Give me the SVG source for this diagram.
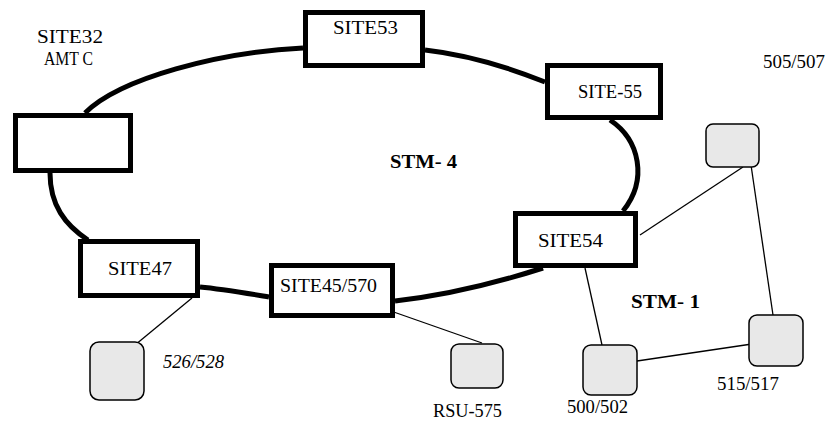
<svg xmlns="http://www.w3.org/2000/svg" width="828" height="423" viewBox="0 0 828 423">
<style>
.site{fill:#fff;stroke:#000;stroke-width:5}
.node{fill:#e8e8e8;stroke:#000;stroke-width:1.5}
.ring{fill:none;stroke:#000;stroke-width:5}
.link{fill:none;stroke:#000;stroke-width:1.3}
text{font-family:"Liberation Serif","Times New Roman",serif;font-size:18px;fill:#000}
.b{font-weight:bold}
.i{font-style:italic}
</style>
<rect width="828" height="423" fill="#fff"/>
<g id="connectors">
<path class="ring" d="M85,113 C120,78 220,52 303,48"/>
<path class="ring" d="M425,50 C470,55 510,68 545,82"/>
<path class="ring" d="M610,120 C640,140 648,180 623,211"/>
<path class="ring" d="M543,268 C490,285 440,296 395,301"/>
<path class="ring" d="M269,297 C245,293 222,289 200,287"/>
<path class="ring" d="M88,240 C65,225 50,205 50,173"/>
<path class="link" d="M192,298 L135,345"/>
<path class="link" d="M388,310 L482,343"/>
<path class="link" d="M585,268 L602,345"/>
<path class="link" d="M637,361 L752,344"/>
<path class="link" d="M751,165 L773,315"/>
<path class="link" d="M743,167 L640,235"/>
</g>
<g id="site53"><rect class="site" x="305.5" y="12.5" width="117" height="53"/><text x="333" y="34" textLength="65" lengthAdjust="spacingAndGlyphs">SITE53</text></g>
<g id="site55"><rect class="site" x="547.5" y="65.5" width="113" height="52"/><text x="578" y="98" textLength="64" lengthAdjust="spacingAndGlyphs">SITE-55</text></g>
<g id="site32"><rect class="site" x="15.5" y="115.5" width="115" height="55"/><text x="37" y="43" textLength="66" lengthAdjust="spacingAndGlyphs">SITE32</text><text x="44" y="65" textLength="49" lengthAdjust="spacingAndGlyphs">AMT C</text></g>
<g id="site47"><rect class="site" x="80.5" y="241.5" width="117" height="54"/><text x="108" y="275" textLength="64" lengthAdjust="spacingAndGlyphs">SITE47</text></g>
<g id="site45"><rect class="site" x="271.5" y="265.5" width="121" height="50"/><text x="280" y="292" textLength="97" lengthAdjust="spacingAndGlyphs">SITE45/570</text></g>
<g id="site54"><rect class="site" x="515.5" y="213.5" width="120" height="52"/><text x="538" y="247" textLength="65" lengthAdjust="spacingAndGlyphs">SITE54</text></g>
<g id="stm4"><text class="b" x="390" y="168" textLength="67" lengthAdjust="spacingAndGlyphs">STM- 4</text></g>
<g id="stm1"><text class="b" x="631" y="308" textLength="69" lengthAdjust="spacingAndGlyphs">STM- 1</text></g>
<g id="n526"><rect class="node" x="90" y="342" width="54" height="58" rx="9"/><text class="i" x="163" y="368" textLength="61" lengthAdjust="spacingAndGlyphs">526/528</text></g>
<g id="rsu575"><rect class="node" x="451" y="344" width="52" height="44" rx="8"/><text x="433" y="417" textLength="69" lengthAdjust="spacingAndGlyphs">RSU-575</text></g>
<g id="n500"><rect class="node" x="583" y="345" width="54" height="50" rx="8"/><text x="567" y="413" textLength="61" lengthAdjust="spacingAndGlyphs">500/502</text></g>
<g id="n515"><rect class="node" x="749" y="315" width="54" height="51" rx="8"/><text x="717" y="390" textLength="62" lengthAdjust="spacingAndGlyphs">515/517</text></g>
<g id="n505"><rect class="node" x="706" y="124" width="53" height="43" rx="7"/><text x="763" y="68" textLength="62" lengthAdjust="spacingAndGlyphs">505/507</text></g>
</svg>
